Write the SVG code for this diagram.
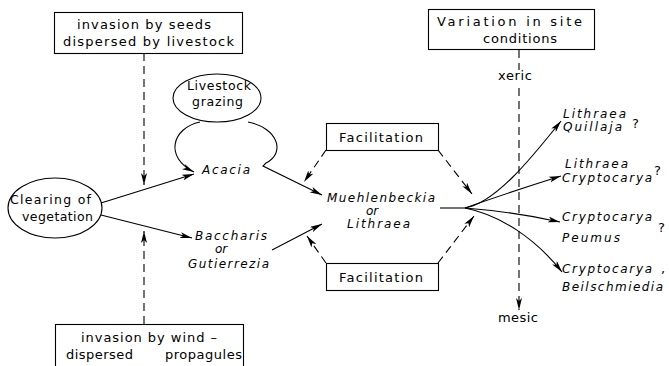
<svg xmlns="http://www.w3.org/2000/svg" width="669" height="366" viewBox="0 0 669 366">
<style>
text{font-family:"DejaVu Sans","Liberation Sans",sans-serif;font-size:13px;fill:#000}
.i{font-style:italic;font-size:12px}
.s{font-size:12.5px}
.box{fill:#fff;stroke:#000;stroke-width:1.1}
.ell{fill:#fff;stroke:#000;stroke-width:1.1}
.ln{fill:none;stroke:#000;stroke-width:1.1}
.d{fill:none;stroke:#000;stroke-width:1.1;stroke-dasharray:8 5}
</style>
<defs>
<marker id="ah" viewBox="0 0 12 6" refX="12" refY="3" markerWidth="12" markerHeight="6" markerUnits="userSpaceOnUse" orient="auto">
<path d="M0,0 L12,3 L0,6 L3,3 z" fill="#000"/>
</marker>
</defs>
<rect width="669" height="366" fill="#fff"/>
<g id="connectors">
<path class="d" d="M144,53 V185" marker-end="url(#ah)"/>
<path class="d" d="M144,324 V231" marker-end="url(#ah)"/>
<path class="ln" d="M101,203 L194,174" marker-end="url(#ah)"/>
<path class="ln" d="M101,215 L192,238" marker-end="url(#ah)"/>
<path class="ln" d="M200,122 C172,128 164,157 194,172" marker-end="url(#ah)"/>
<path class="ln" d="M248,122 C278,128 286,153 266,163 L263,166 L322,195" marker-end="url(#ah)"/>
<path class="ln" d="M272,250 L322,224" marker-end="url(#ah)"/>
<path class="d" d="M326,150 L304,182" marker-end="url(#ah)"/>
<path class="d" d="M326,263 L307,236" marker-end="url(#ah)"/>
<path class="d" d="M438,150 L472,194" marker-end="url(#ah)"/>
<path class="d" d="M438,263 L474,216" marker-end="url(#ah)"/>
<path class="d" d="M519,50 V70"/>
<path class="d" d="M519,88 V310" marker-end="url(#ah)"/>
<path class="ln" d="M440,208 H465"/>
<path class="ln" d="M465,208 C495,203 530,160 561,121" marker-end="url(#ah)"/>
<path class="ln" d="M465,208 Q510,192 561,176" marker-end="url(#ah)"/>
<path class="ln" d="M465,208 Q515,212 560,222" marker-end="url(#ah)"/>
<path class="ln" d="M465,208 C500,215 535,238 562,272" marker-end="url(#ah)"/>
</g>
<g id="seeds-box">
<rect class="box" x="54.5" y="12.5" width="188" height="41"/>
<text x="77" y="29" textLength="134" lengthAdjust="spacing">invasion by seeds</text>
<text x="63" y="46" textLength="171" lengthAdjust="spacing">dispersed by livestock</text>
</g>
<g id="wind-box">
<rect class="box" x="55.5" y="324.5" width="188" height="50"/>
<text x="81" y="342" textLength="136" lengthAdjust="spacing">invasion by wind –</text>
<text x="66" y="359" textLength="67" lengthAdjust="spacing">dispersed</text>
<text x="165" y="359" textLength="77" lengthAdjust="spacing">propagules</text>
</g>
<g id="site-box">
<rect class="box" x="428.5" y="9.5" width="166" height="40"/>
<text x="437" y="26" textLength="145" lengthAdjust="spacing">Variation in site</text>
<text x="483" y="43" textLength="74" lengthAdjust="spacing">conditions</text>
</g>
<g id="clearing">
<ellipse class="ell" cx="55" cy="208" rx="47" ry="30"/>
<text class="s" x="10" y="204" textLength="81" lengthAdjust="spacing">Clearing of</text>
<text class="s" x="22" y="221" textLength="71" lengthAdjust="spacing">vegetation</text>
</g>
<g id="grazing">
<ellipse class="ell" cx="217" cy="98" rx="44" ry="24"/>
<text class="s" x="187" y="90" textLength="64" lengthAdjust="spacing">Livestock</text>
<text class="s" x="192" y="106" textLength="51" lengthAdjust="spacing">grazing</text>
</g>
<g id="acacia">
<text class="i" x="202" y="174" textLength="48" lengthAdjust="spacing">Acacia</text>
</g>
<g id="baccharis">
<text class="i" x="195" y="240" textLength="72" lengthAdjust="spacing">Baccharis</text>
<text class="i" x="215" y="253">or</text>
<text class="i" x="188" y="268" textLength="81" lengthAdjust="spacing">Gutierrezia</text>
</g>
<g id="muehlenbeckia">
<text class="i" x="327" y="202" textLength="108" lengthAdjust="spacing">Muehlenbeckia</text>
<text class="i" x="366" y="215">or</text>
<text class="i" x="347" y="228" textLength="63" lengthAdjust="spacing">Lithraea</text>
</g>
<g id="facilitation-top">
<rect class="box" x="326.5" y="123.5" width="112" height="27"/>
<text x="339" y="142" textLength="84" lengthAdjust="spacing">Facilitation</text>
</g>
<g id="facilitation-bottom">
<rect class="box" x="326.5" y="263.5" width="112" height="27"/>
<text x="339" y="282" textLength="84" lengthAdjust="spacing">Facilitation</text>
</g>
<g id="xeric"><text x="498" y="80" textLength="34" lengthAdjust="spacing">xeric</text></g>
<g id="mesic"><text x="498" y="322" textLength="40" lengthAdjust="spacing">mesic</text></g>
<g id="outcome1">
<text class="i" x="563" y="118" textLength="63" lengthAdjust="spacing">Lithraea</text>
<text class="i" x="563" y="131" textLength="59" lengthAdjust="spacing">Quillaja</text>
<text x="632" y="128">?</text>
</g>
<g id="outcome2">
<text class="i" x="565" y="168" textLength="63" lengthAdjust="spacing">Lithraea</text>
<text class="i" x="562" y="182" textLength="90" lengthAdjust="spacing">Cryptocarya</text>
<text x="654" y="175">?</text>
</g>
<g id="outcome3">
<text class="i" x="562" y="221" textLength="90" lengthAdjust="spacing">Cryptocarya</text>
<text class="i" x="562" y="242" textLength="58" lengthAdjust="spacing">Peumus</text>
<text x="658" y="232">?</text>
</g>
<g id="outcome4">
<text class="i" x="562" y="273" textLength="90" lengthAdjust="spacing">Cryptocarya</text>
<text x="661" y="273">,</text>
<text class="i" x="562" y="291" textLength="101" lengthAdjust="spacing">Beilschmiedia</text>
</g>
</svg>
